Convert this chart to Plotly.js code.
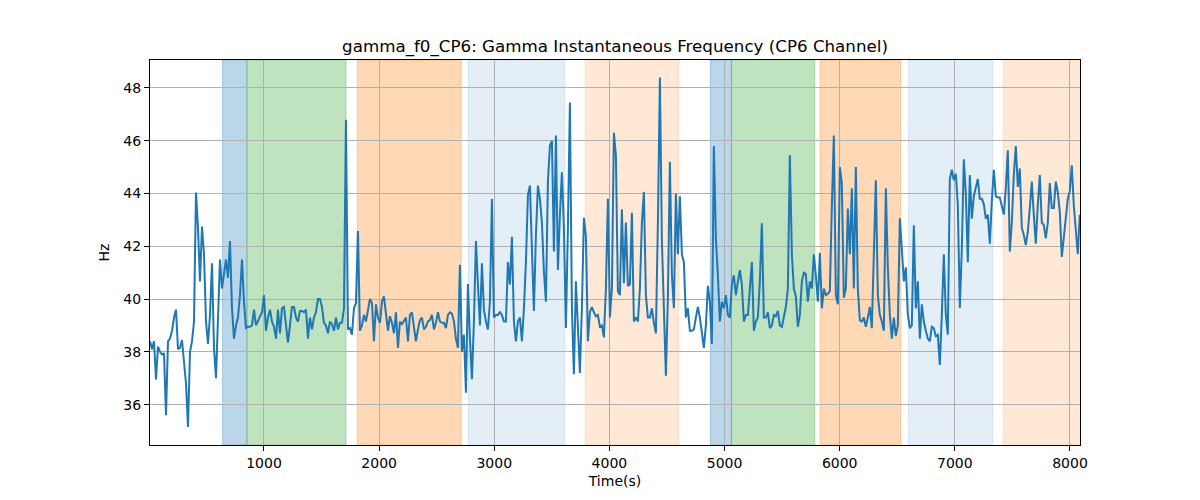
<!DOCTYPE html>
<html>
<head>
<meta charset="utf-8">
<script src="https://cdn.plot.ly/plotly-3.0.1.min.js"></script>
<style>
  body { margin: 0; background: #fff; }
  #chart { width: 1200px; height: 500px; }
</style>
</head>
<body>
<div id="chart"></div>
<script>
// sample grid of the signal (seconds)
const t0 = 10;
const dt = 17.366;

// instantaneous frequency, Hz
const freqHz = [
  38.4, 38.1, 38.4, 36.95, 38.2, 38.0, 37.9, 37.95, 35.6, 38.4,
  38.5, 38.8, 39.3, 39.6, 38.1, 38.15, 38.45, 37.45, 36.8, 35.15,
  38.0, 38.4, 39.15, 44.04, 42.7, 40.67, 42.75, 41.7, 39.15, 38.3,
  39.4, 41.36, 38.15, 37.0, 38.9, 41.5, 40.4, 41.0, 41.5, 40.8,
  42.2, 39.65, 38.5, 39.0, 39.3, 40.15, 41.5, 39.9, 38.9, 38.95,
  38.95, 39.0, 39.6, 39.0, 39.15, 39.3, 39.5, 40.15, 38.8, 39.3,
  39.6, 39.15, 38.95, 38.5, 39.6, 38.7, 39.65, 39.7, 38.9, 38.35,
  39.0, 39.7, 39.7, 39.3, 39.15, 39.55, 39.55, 39.5, 39.6, 38.5,
  39.3, 38.85, 39.3, 39.5, 40.0, 40.0, 39.7, 39.1, 39.0, 38.7,
  39.15, 39.05, 38.8, 39.3, 38.85, 39.1, 39.1, 39.65,

  46.8, 38.85, 38.9, 38.65, 39.65, 39.85, 42.58, 38.8, 39.0, 39.4,
  39.15, 39.65, 40.0, 39.85, 38.4, 39.8, 39.3, 39.1, 39.9, 40.1,
  39.4, 38.8, 39.35, 39.1, 38.7, 39.5, 38.15, 39.15, 39.05, 39.2,
  39.3, 38.4, 39.4, 39.5, 38.9, 38.4, 38.85, 39.2, 39.3, 38.85,
  38.95, 39.15, 39.2, 39.4, 38.85, 39.1, 39.5, 39.15, 39.1, 39.1,
  38.9, 39.4, 39.5, 39.45, 39.15, 38.5, 38.15, 41.3, 38.0, 38.65,
  36.45, 40.57, 38.5, 36.96, 39.15, 42.2, 40.55, 39.0, 41.36, 39.6,
  39.15, 38.85, 39.9, 43.79, 39.3, 39.4, 39.4, 39.5, 39.4, 39.15,
  39.15, 41.4, 40.55, 42.36, 39.15, 38.4, 39.15, 39.3, 38.4, 39.65,
  41.4, 43.94, 44.3, 41.7, 39.55,

  42.43, 44.3, 43.8, 42.9, 41.05, 39.9, 44.45, 45.8, 46.0, 41.8,
  46.2, 41.1, 43.2, 44.8, 42.7, 38.9, 42.7, 47.45, 39.65, 37.15,
  40.67, 38.65, 37.2, 39.65, 43.08, 42.4, 38.4, 39.5, 39.7, 39.5,
  39.35, 39.4, 38.95, 39.0, 38.55, 40.4, 43.8, 39.3, 40.4, 46.3,
  45.45, 40.3, 40.15, 43.4, 40.6, 42.9, 40.5, 40.55, 43.27, 39.15,
  39.3, 39.15, 40.4, 42.9, 44.06, 40.15, 39.3, 39.3, 39.65, 39.1,
  38.7, 42.9, 48.4, 42.2, 39.9, 37.1, 40.05, 45.2, 40.9, 39.65,
  44.0, 41.7, 43.9, 41.7, 41.4, 39.3, 39.65, 38.8, 38.8, 38.85,
  39.3, 39.7, 39.3, 38.8, 38.15, 39.0, 40.5, 39.9, 38.3, 45.8,
  42.3, 40.9, 39.15, 39.9, 39.65,

  40.15, 39.4, 39.3, 40.55, 40.9, 40.15, 40.67, 41.1, 40.55, 39.15,
  39.4, 39.4, 40.4, 41.4, 38.8, 39.15, 39.3, 40.67, 42.87, 39.3,
  39.3, 39.5, 38.9, 39.0, 39.4, 39.35, 39.55, 39.0, 38.95, 39.3,
  39.7, 40.4, 45.45, 41.7, 40.4, 40.1, 38.95, 39.4, 40.67, 41.0,
  40.95, 39.9, 40.67, 40.4, 41.7, 40.9, 39.9, 41.74, 39.65, 40.4,
  40.15, 40.2, 40.3, 43.55, 46.2, 40.15, 39.8, 45.0, 44.4, 40.05,
  40.4, 43.43, 41.7, 44.2, 40.4, 45.0, 40.4, 39.2, 39.15, 39.3,
  38.95, 39.3, 39.7, 38.9, 42.3, 44.5, 40.15, 39.4, 39.15, 38.8,
  44.2, 41.2, 39.4, 38.5, 39.3, 38.6, 39.0, 43.06, 41.9, 40.67,
  41.2, 39.4, 38.9, 39.0, 42.8,

  39.65, 40.67, 38.5, 39.8, 39.15, 38.8, 38.5, 38.4, 38.95, 38.9,
  38.6, 38.65, 37.5, 39.4, 41.7, 39.4, 38.65, 44.55, 44.9, 44.5,
  44.75, 43.55, 39.66, 41.9, 45.3, 44.0, 41.4, 44.7, 43.05, 43.9,
  44.2, 44.55, 43.8, 43.8, 43.6, 43.05, 43.2, 42.1, 43.7, 44.9,
  43.9, 43.85, 43.85, 43.45, 43.2, 44.2, 45.64, 41.8, 42.9, 44.7,
  45.8, 44.25, 44.95, 42.7, 42.43, 42.05, 42.55, 43.45, 44.45, 43.2,
  42.1, 43.55, 44.7, 42.9, 42.8, 42.3, 42.9, 44.4, 43.45, 43.45,
  44.45, 44.05, 43.3, 41.6, 42.3, 43.05, 43.8, 44.1, 45.07, 43.55,
  42.43, 41.7, 43.2
];

// shaded intervals (seconds) and their kind
const spanStart = [640, 852, 1810, 2774, 3790, 4876, 5060, 5830, 6598, 7420];
const spanEnd   = [852, 1712, 2713, 3613, 4603, 5060, 5784, 6531, 7330, 8100];
const spanKind  = ['blue', 'green', 'orange', 'lightblue', 'lightorange',
                   'blue', 'green', 'orange', 'lightblue', 'lightorange'];

const kindColor = {
    blue: 'rgba(31,119,180,0.3)',
    green: 'rgba(44,160,44,0.3)',
    orange: 'rgba(255,127,14,0.3)',
    lightblue: 'rgba(31,119,180,0.12)',
    lightorange: 'rgba(255,127,14,0.17)'
};

const shapes = spanStart.map(function(s, i) {
    return {
        type: 'rect', xref: 'x', yref: 'paper',
        x0: s, x1: spanEnd[i], y0: 0, y1: 1,
        fillcolor: kindColor[spanKind[i]],
        line: { color: kindColor[spanKind[i]], width: 1 },
        layer: 'below'
    };
});

const trace = {
    y: freqHz,
    x0: t0,
    dx: dt,
    type: 'scatter',
    mode: 'lines',
    line: { color: '#1f77b4', width: 2 },
    hoverinfo: 'skip'
};

const axisStyle = {
    showgrid: true,
    gridcolor: '#b0b0b0',
    gridwidth: 1,
    zeroline: false,
    showline: true,
    mirror: true,
    linecolor: '#000',
    linewidth: 1,
    ticks: 'outside',
    ticklen: 5,
    tickcolor: '#000',
    tickfont: { family: 'DejaVu Sans', size: 14, color: '#000' }
};

const layout = {
    width: 1200,
    height: 500,
    paper_bgcolor: '#fff',
    plot_bgcolor: '#fff',
    margin: { l: 150, r: 120, t: 60, b: 55 },
    showlegend: false,
    font: { family: 'DejaVu Sans', color: '#000' },
    title: {
        text: 'gamma_f0_CP6: Gamma Instantaneous Frequency (CP6 Channel)',
        font: { family: 'DejaVu Sans', size: 16.7, color: '#000' },
        x: 0.5, xref: 'paper', xanchor: 'center',
        y: 1, yref: 'paper', yanchor: 'bottom',
        pad: { b: 8 }
    },
    xaxis: Object.assign({}, axisStyle, {
        range: [10, 8087],
        tickvals: [1000, 2000, 3000, 4000, 5000, 6000, 7000, 8000],
        title: { text: 'Time(s)', font: { family: 'DejaVu Sans', size: 14 }, standoff: 6 }
    }),
    yaxis: Object.assign({}, axisStyle, {
        range: [34.47, 49.06],
        tick0: 36,
        dtick: 2,
        title: { text: 'Hz', font: { family: 'DejaVu Sans', size: 14 }, standoff: 10 }
    }),
    shapes: shapes
};

Plotly.newPlot('chart', [trace], layout, { displayModeBar: false, staticPlot: true });
</script>
</body>
</html>
